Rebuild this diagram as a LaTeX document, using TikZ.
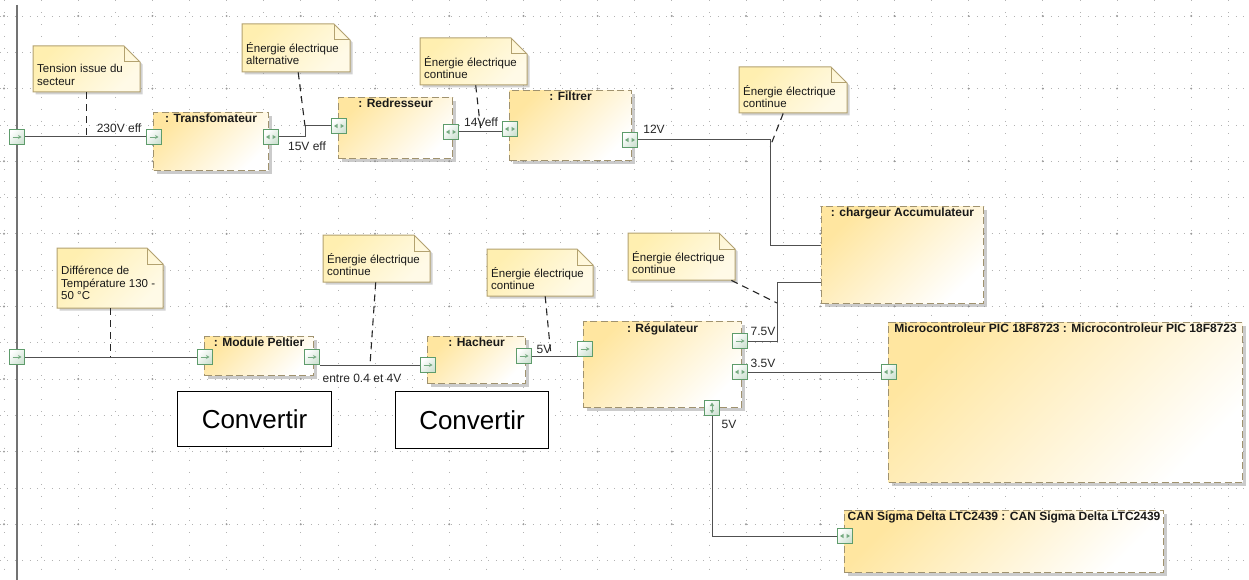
\documentclass[tikz,border=0pt]{standalone}
\usepackage{fontspec}
\setmainfont{Liberation Sans}
\usepackage{tikz}
\usetikzlibrary{calc}
\usetikzlibrary{shadows,arrows.meta}

\definecolor{partyel}{HTML}{FFE6A0}
\definecolor{partedge}{HTML}{A0926E}
\definecolor{noteyel}{HTML}{FFEFB0}
\definecolor{noteedge}{HTML}{B3A270}
\definecolor{portgr}{HTML}{5E9C6B}
\definecolor{portfill}{HTML}{CFE2D3}
\definecolor{wiregray}{HTML}{505050}

% note with folded corner: name, x1, y1, x2, y2, text
\newcommand{\notebox}[6]{%
  \draw[notebody] (#2,#3) -- (#4-16,#3) -- (#4,#3+16) -- (#4,#5) -- (#2,#5) -- cycle;
  \draw[notefold] (#4-16,#3) -- (#4-16,#3+16) -- (#4,#3+16);
  \node[notearea, minimum width=#4-#2, minimum height=#5-#3] (#1) at (#2,#3) {};
  \node[notetext] (#1t) at (#2+3,#3+17) {#6};
}

\begin{document}
\begin{tikzpicture}[x=1pt, y=-1pt,
    gridrow/.style={draw=black!30, line width=.7, dash pattern=on .8pt off 6.6pt},
    gridcol/.style={draw=black!30, line width=.7, dash pattern=on .8pt off 11.3pt},
    gridmajor/.style={fill=black!40},
    part/.style={anchor=north west, inner sep=0, draw=partedge, line width=1.1,
        dash pattern=on 7pt off 3.5pt, top color=partyel, bottom color=white, shading angle=45,
        drop shadow={shadow xshift=3pt, shadow yshift=-3pt, fill=black!45, opacity=.45}},
    ttl/.style={below, inner sep=2pt, font=\bfseries\fontsize{12}{13}\selectfont, text=black!90},
    notebody/.style={draw=noteedge, line width=1, top color=noteyel, bottom color=noteyel!30,
        shading angle=45, drop shadow={shadow xshift=2.5pt, shadow yshift=-2.5pt, fill=black!40, opacity=.45}},
    notefold/.style={draw=noteedge, line width=1},
    notearea/.style={anchor=north west, inner sep=0},
    notetext/.style={anchor=north west, inner sep=1pt, align=left,
        font=\fontsize{11.5}{12.5}\selectfont, text=black!90},
    port/.style={draw=portgr, line width=1.1, minimum size=15, inner sep=0,
        top color=white, bottom color=portfill, shading angle=45},
    portarr/.style={draw=portgr!85, line width=.8},
    porttip/.style={fill=portgr!85},
    pin/.style={port, path picture={\draw[portarr, -{Stealth[length=3.5pt,width=4pt]}]
        ([xshift=-4.5pt]path picture bounding box.center) -- ([xshift=4.5pt]path picture bounding box.center);}},
    pbi/.style={port, path picture={
        \fill[porttip] ([xshift=-5pt]path picture bounding box.center) -- ++(3.5,-2.2) -- ++(0,4.4) -- cycle;
        \fill[porttip] ([xshift=5pt]path picture bounding box.center) -- ++(-3.5,-2.2) -- ++(0,4.4) -- cycle;}},
    pud/.style={port, path picture={
        \draw[portarr] ([yshift=-3pt]path picture bounding box.center) -- ([yshift=3pt]path picture bounding box.center);
        \fill[porttip] ([yshift=5.5pt]path picture bounding box.center) -- ++(-2.2,3.5) -- ++(4.4,0) -- cycle;
        \fill[porttip] ([yshift=-5.5pt]path picture bounding box.center) -- ++(-2.2,-3.5) -- ++(4.4,0) -- cycle;}},
    wire/.style={draw=wiregray, line width=1},
    nlink/.style={draw=black!85, line width=1.1, dash pattern=on 7pt off 5pt},
    lbl/.style={inner sep=1pt, font=\fontsize{12}{13}\selectfont, text=black!85},
    conv/.style={anchor=north west, inner sep=0, draw=black, line width=1, fill=white,
        font=\fontsize{26}{28}\selectfont}]

    \useasboundingbox (0,0) rectangle (1249,580);
    \fill[white] (0,0) rectangle (1249,580);

    % grid
    \foreach \k in {0,...,15} \draw[gridrow] (0,16+36.3*\k) -- (1249,16+36.3*\k);
    \foreach \k in {0,...,33} \draw[gridcol] (4+37.1*\k,0) -- (4+37.1*\k,580);
    \foreach \i in {0,2,...,32}
        \foreach \j in {0,2,...,14}
            \fill[gridmajor] (4+37.1*\i,16+36.3*\j) circle (1.1);
    \draw[draw=black!55, line width=2] (17,5) -- (17,580);

    % parts
    \node[part, minimum width=115, minimum height=58] (tr) at (153,112) {};
    \node[ttl] (trT) at (tr.north) {: Transfomateur};
    \node[part, minimum width=114, minimum height=61] (rd) at (338,97) {};
    \node[ttl] (rdT) at (rd.north) {: Redresseur};
    \node[part, minimum width=122, minimum height=70] (fi) at (509,90) {};
    \node[ttl] (fiT) at (fi.north) {: Filtrer};
    \node[part, minimum width=162, minimum height=97] (ch) at (821,206) {};
    \node[ttl] (chT) at (ch.north) {: chargeur Accumulateur};
    \node[part, minimum width=109, minimum height=39] (mo) at (204,336) {};
    \node[ttl] (moT) at (mo.north) {: Module Peltier};
    \node[part, minimum width=98, minimum height=47] (ha) at (427,336) {};
    \node[ttl] (haT) at (ha.north) {: Hacheur};
    \node[part, minimum width=158, minimum height=86] (rg) at (583,321) {};
    \node[ttl] (rgT) at (rg.north) {: Régulateur};
    \node[part, minimum width=354, minimum height=160] (mi) at (888,322) {};
    \node[ttl] (miT) at (mi.north) {Microcontroleur PIC 18F8723 : Microcontroleur PIC 18F8723};
    \node[part, minimum width=319, minimum height=62] (ca) at (844,510) {};
    \node[ttl] (caT) at (ca.north) {CAN Sigma Delta LTC2439 : CAN Sigma Delta LTC2439};

    % notes
    \notebox{n1}{33}{46}{140}{92}{Tension issue du\\secteur}
    \notebox{n2}{242}{24}{350}{72}{Énergie électrique\\alternative}
    \notebox{n3}{420}{38}{527}{85}{Énergie électrique\\continue}
    \notebox{n4}{739}{67}{847}{113}{Énergie électrique\\continue}
    \notebox{n5}{628}{233}{735}{280}{Énergie électrique\\continue}
    \notebox{n6}{57}{248}{163}{308}{Différence de\\Température 130 -\\50 °C}
    \notebox{n7}{323}{235}{430}{282}{Énergie électrique\\continue}
    \notebox{n8}{487}{249}{593}{296}{Énergie électrique\\continue}

    % ports
    \node[pin] (pA) at (17,137) {};
    \node[pin] (tL) at (154,137) {};
    \node[pbi] (tR) at (271,137) {};
    \node[pbi] (rL) at (339,126) {};
    \node[pbi] (rR) at (451,132) {};
    \node[pbi] (fL) at (510,129) {};
    \node[pbi] (fR) at (630,140) {};
    \node[pin] (pB) at (17,357) {};
    \node[pin] (mL) at (205,357) {};
    \node[pin] (mR) at (312,357) {};
    \node[pin] (hL) at (428,365) {};
    \node[pin] (hR) at (524,356) {};
    \node[pin] (rgIn) at (585,349) {};
    \node[pin] (rg75) at (740,341) {};
    \node[pbi] (rg35) at (740,372) {};
    \node[pud] (rgB) at (712,408) {};
    \node[pbi] (miP) at (889,372) {};
    \node[pbi] (canP) at (845,536) {};

    % bends and junctions
    \coordinate (k1) at (305,126);
    \coordinate (k2) at (770,245);
    \coordinate (k3) at (777,282);
    \coordinate (j3) at (481,132);
    \coordinate (j4) at (770,147);
    \coordinate (j5) at (777,303);
    \coordinate (j7) at (370,365);
    \coordinate (j8) at (551,356);

    % connectors
    \draw[wire] (pA) -- (tL);
    \draw[wire] (tR.east) -| (k1) -- (rL.west);
    \draw[wire] (rR.east) -- (rR.east -| fL.west);
    \draw[wire] (fR.east) -| (k2) -- (k2 -| ch.west);
    \draw[wire] (rg75.east) -| (k3) -- (k3 -| ch.west);
    \draw[wire] (rg35) -- (miP);
    \draw[wire] (rgB.south) |- (canP.west);
    \draw[wire] (pB) -- (mL);
    \draw[wire] (hL.west -| mR.east) -- (hL.west);
    \draw[wire] (hR.east) -- (hR.east -| rgIn.west);

    % note links
    \draw[nlink] (n1.south) -- (n1.south |- pA);
    \draw[nlink] ([xshift=2pt]n2.south) -- (k1);
    \draw[nlink] ([xshift=2pt]n3.south) -- (j3);
    \draw[nlink] ([xshift=-10pt]n4.south) -- (j4);
    \draw[nlink] ([xshift=-4pt]n5.south east) -- (j5);
    \draw[nlink] (n6.south) -- (n6.south |- pB);
    \draw[nlink] ([xshift=-1pt]n7.south) -- (j7);
    \draw[nlink] ([xshift=5pt]n8.south) -- (j8);

    % labels
    \node[lbl] (v230) at (119,128) {230V eff};
    \node[lbl] (v15) at (307,146) {15V eff};
    \node[lbl] (v14) at (481,122) {14Veff};
    \node[lbl] (v12) at (654,129) {12V};
    \node[lbl] (v04) at (362,378) {entre 0.4 et 4V};
    \node[lbl] (v5a) at (544,349) {5V};
    \node[lbl] (v75) at (763,331) {7.5V};
    \node[lbl] (v35) at (763,363) {3.5V};
    \node[lbl] (v5b) at (729,424) {5V};

    % Convertir boxes
    \node[conv, minimum width=154, minimum height=55] (cv1) at (177,391) {Convertir};
    \node[conv, minimum width=153, minimum height=57] (cv2) at (395,391) {Convertir};
\end{tikzpicture}
\end{document}
